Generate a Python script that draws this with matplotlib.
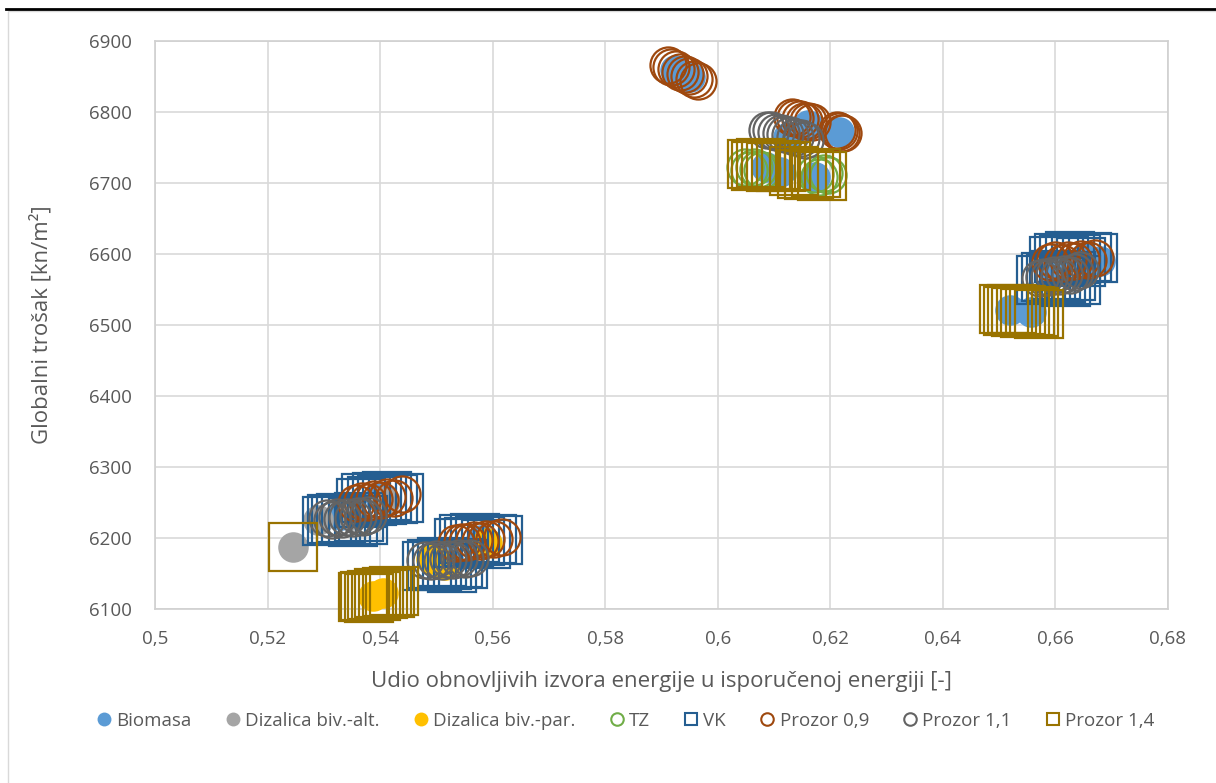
import numpy as np
import matplotlib.pyplot as plt
from matplotlib.ticker import FuncFormatter, MultipleLocator
from matplotlib.lines import Line2D

# Biomasa (filled circles)
bio_x = [0.5924, 0.5950, 0.6085, 0.6110, 0.6172, 0.6160, 0.6215, 0.6125,
         0.6520, 0.6556, 0.6650, 0.6680, 0.6600, 0.5330, 0.5400, 0.5520, 0.5580]
bio_y = [6859, 6849, 6722, 6716, 6708, 6782, 6772, 6765,
         6521, 6518, 6595, 6590, 6575, 6232, 6258, 6170, 6197]

# Dizalica biv.-alt. (filled grey)
alt_x = [0.5245, 0.5290, 0.5350, 0.5408]
alt_y = [6187, 6225, 6232, 6252]

# Dizalica biv.-par. (filled yellow)
par_x = [0.5388, 0.5405, 0.5490, 0.5515, 0.5590]
par_y = [6118, 6122, 6170, 6162, 6193]

# TZ
tz_x = [0.6048, 0.6056, 0.6064, 0.6072, 0.6079, 0.6172, 0.6180, 0.6188, 0.6196]
tz_y = [6722, 6719, 6723, 6720, 6718, 6712, 6709, 6714, 6711]

# VK
vk_x = [0.5305, 0.5314, 0.5322, 0.5331, 0.5340, 0.5352, 0.5362, 0.5370,
        0.5366, 0.5375, 0.5385, 0.5394, 0.5403, 0.5413, 0.5423, 0.5433,
        0.5483, 0.5492, 0.5501, 0.5510, 0.5519, 0.5528, 0.5538, 0.5547,
        0.5540, 0.5549, 0.5558, 0.5568, 0.5577, 0.5588, 0.5598, 0.5609,
        0.6597, 0.6606, 0.6616, 0.6626, 0.6636, 0.6646, 0.6656, 0.6666,
        0.6575, 0.6583, 0.6592, 0.6601, 0.6610, 0.6619, 0.6628, 0.6636]
vk_y = [6224, 6227, 6225, 6228, 6226, 6223, 6229, 6226,
        6250, 6256, 6252, 6258, 6254, 6259, 6255, 6257,
        6160, 6164, 6161, 6166, 6162, 6158, 6165, 6163,
        6193, 6198, 6195, 6200, 6196, 6192, 6199, 6197,
        6590, 6595, 6592, 6597, 6593, 6589, 6596, 6594,
        6563, 6568, 6565, 6570, 6566, 6561, 6569, 6564]

# Prozor 0,9
p09_x = [0.5911, 0.5917, 0.5926, 0.5933, 0.5941, 0.5949, 0.5957, 0.5964,
         0.6131, 0.6138, 0.6146, 0.6153, 0.6160, 0.6167,
         0.6212, 0.6216, 0.6219, 0.6222,
         0.6590, 0.6600, 0.6612, 0.6622, 0.6633, 0.6645, 0.6657, 0.6671,
         0.5357, 0.5367, 0.5378, 0.5389, 0.5400, 0.5412, 0.5425, 0.5439,
         0.5535, 0.5545, 0.5555, 0.5566, 0.5577, 0.5589, 0.5602, 0.5616]
p09_y = [6866, 6863, 6860, 6856, 6853, 6851, 6847, 6844,
         6793, 6791, 6790, 6788, 6787, 6786,
         6775, 6773, 6771, 6770,
         6589, 6591, 6588, 6592, 6590, 6593, 6591, 6594,
         6249, 6252, 6251, 6255, 6254, 6258, 6257, 6262,
         6193, 6195, 6194, 6197, 6196, 6199, 6198, 6201]

# Prozor 1,1
p11_x = [0.6087, 0.6095, 0.6103, 0.6112, 0.6120, 0.6129, 0.6138, 0.6147, 0.6155,
         0.6572, 0.6580, 0.6589, 0.6598, 0.6607, 0.6616, 0.6625, 0.6634, 0.6643,
         0.5306, 0.5315, 0.5324, 0.5333, 0.5342, 0.5351, 0.5360, 0.5369, 0.5378,
         0.5480, 0.5490, 0.5500, 0.5510, 0.5520, 0.5530, 0.5540, 0.5550, 0.5559]
p11_y = [6775, 6774, 6772, 6771, 6769, 6767, 6765, 6763, 6761,
         6566, 6568, 6567, 6570, 6569, 6572, 6571, 6575, 6577,
         6228, 6226, 6229, 6227, 6230, 6228, 6231, 6229, 6232,
         6169, 6167, 6170, 6168, 6171, 6169, 6172, 6170, 6172]

# Prozor 1,4
p14_x = [0.6060, 0.6068, 0.6077, 0.6086, 0.6095, 0.6104, 0.6113, 0.6122, 0.6135,
         0.6150, 0.6162, 0.6175, 0.6186,
         0.6508, 0.6515, 0.6522, 0.6530, 0.6538, 0.6546, 0.6554, 0.6562, 0.6570,
         0.5245,
         0.5369, 0.5374, 0.5380, 0.5386, 0.5392, 0.5398, 0.5405, 0.5412, 0.5418, 0.5425]
p14_y = [6727, 6724, 6728, 6725, 6723, 6726, 6722, 6724, 6717,
         6713, 6711, 6714, 6710,
         6522, 6520, 6523, 6518, 6521, 6517, 6520, 6519, 6516,
         6188,
         6117, 6119, 6116, 6120, 6118, 6122, 6121, 6124, 6123, 6125]

series = [
    ("Biomasa", bio_x, bio_y, "o", "#5B9BD5", True),
    ("Dizalica biv.-alt.", alt_x, alt_y, "o", "#A5A5A5", True),
    ("Dizalica biv.-par.", par_x, par_y, "o", "#FFC000", True),
    ("TZ", tz_x, tz_y, "o", "#70AD47", False),
    ("VK", vk_x, vk_y, "s", "#255E91", False),
    ("Prozor 0,9", p09_x, p09_y, "o", "#9E480E", False),
    ("Prozor 1,1", p11_x, p11_y, "o", "#636363", False),
    ("Prozor 1,4", p14_x, p14_y, "s", "#997300", False),
]

plt.rcParams['font.family'] = ['Open Sans', 'DejaVu Sans']

fig = plt.figure(figsize=(12.16, 7.83), dpi=100)
ax = fig.add_axes([155/1216, 1 - 609/783, (1168-155)/1216, (609-41)/783])

handles = []
for name, xs, ys, mk, col, filled in series:
    if filled:
        ax.plot(xs, ys, linestyle='none', marker=mk, ms=22, mfc=col, mec=col,
                mew=0, clip_on=False, zorder=3)
        h = Line2D([], [], linestyle='none', marker=mk, ms=10, mfc=col, mec=col, mew=0)
    else:
        ms = 34 if mk == "s" else 26
        ax.plot(xs, ys, linestyle='none', marker=mk, ms=ms, mfc='none', mec=col,
                mew=1.6, clip_on=False, zorder=3)
        h = Line2D([], [], linestyle='none', marker=mk, ms=9, mfc='none', mec=col, mew=1.5)
    handles.append(h)

ax.set_xlim(0.5, 0.68)
ax.set_ylim(6100, 6900)
ax.xaxis.set_major_locator(MultipleLocator(0.02))
ax.yaxis.set_major_locator(MultipleLocator(100))
ax.xaxis.set_major_formatter(FuncFormatter(lambda v, p: ('%g' % round(v, 4)).replace('.', ',')))
ax.grid(True, color='#D9D9D9', linewidth=1.2, zorder=0)
ax.set_axisbelow(True)
for s in ax.spines.values():
    s.set_color('#D0D0D0')
    s.set_linewidth(1.2)
ax.tick_params(length=0, labelsize=13.5, labelcolor='#595959')
ax.tick_params(axis='x', pad=15)
ax.tick_params(axis='y', pad=17)
ax.set_xlabel('Udio obnovljivih izvora energije u isporučenoj energiji [-]',
              fontsize=16, color='#595959', labelpad=17)
ax.set_ylabel('Globalni trošak [kn/m²]', fontsize=16, color='#595959', labelpad=26)

fig.legend(handles, [s[0] for s in series], loc='center',
           bbox_to_anchor=(0.513, 1 - 721/783), ncol=8, frameon=False,
           fontsize=13.5, handletextpad=0.05, columnspacing=1.6, handlelength=1.2,
           labelcolor='#595959')

# chart border
fig.add_artist(plt.Rectangle((8/1216, -0.01), 1.02, 1 - 11/783 + 0.01,
                             transform=fig.transFigure, fill=False,
                             edgecolor='#D9D9D9', linewidth=1))
fig.add_artist(Line2D([6/1216, 1], [1 - 9/783, 1 - 9/783], color='black',
                      linewidth=2, transform=fig.transFigure))

fig.savefig('out.png', dpi=100)
